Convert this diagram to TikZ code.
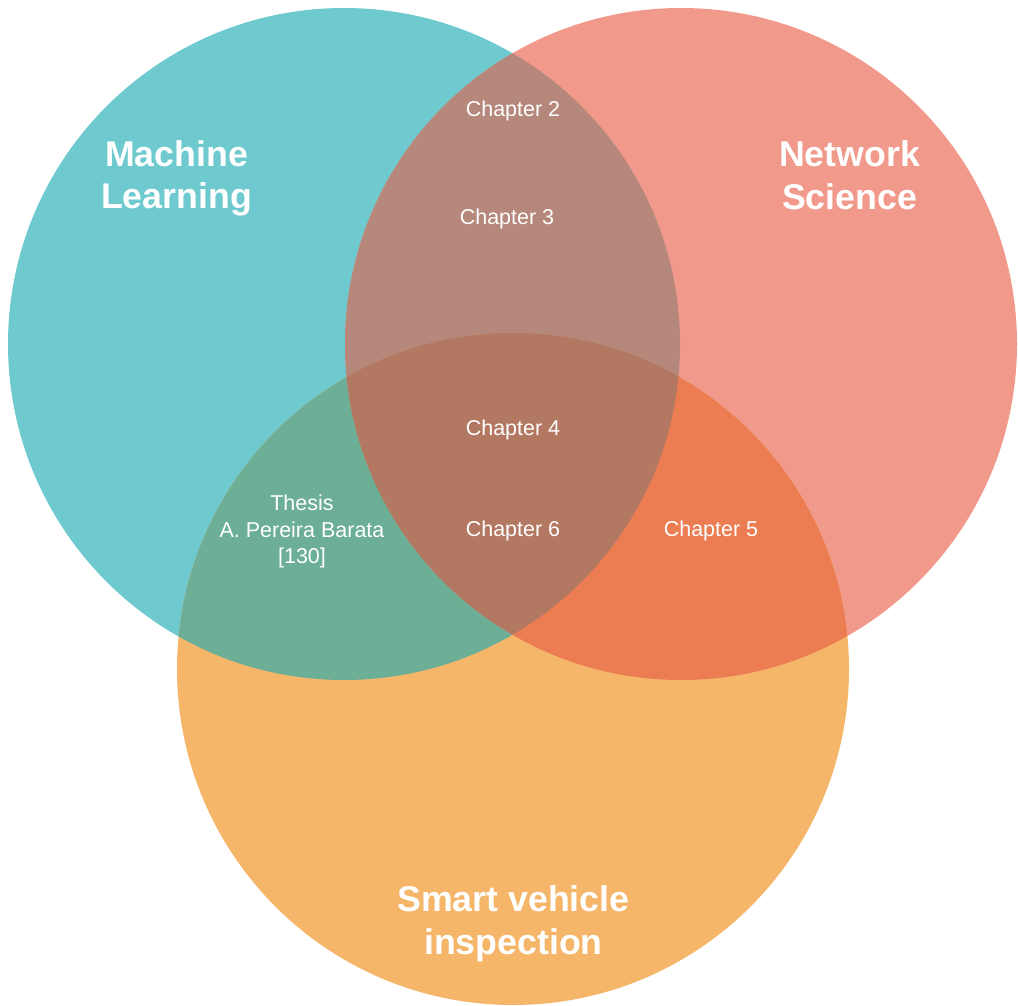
\documentclass[tikz,border=0pt]{standalone}
\usepackage{fontspec}
\setmainfont{Liberation Sans}
\definecolor{mlcol}{HTML}{6FCAD0}
\definecolor{nscol}{HTML}{F1998B}
\definecolor{svcol}{HTML}{F5B66A}
\definecolor{mlnscol}{HTML}{B6877B}
\definecolor{mlsvcol}{HTML}{6CAE96}
\definecolor{nssvcol}{HTML}{EC7D52}
\definecolor{allcol}{HTML}{B37862}
\begin{document}
\begin{tikzpicture}[x=1pt,y=-1pt,
  chap/.style={text=white,anchor=base,inner sep=0pt,font=\fontsize{21.5}{25}\selectfont},
  big/.style={text=white,anchor=base,inner sep=0pt,font=\fontsize{35.7}{41}\selectfont\bfseries}]
\useasboundingbox (0,0) rectangle (1018,1006);
\def\mlc{(344,344) circle[radius=336pt]}
\def\nsc{(681,344) circle[radius=336pt]}
\def\svc{(513,669) circle[radius=336pt]}
% single circles
\fill[mlcol] \mlc;
\fill[nscol] \nsc;
\fill[svcol] \svc;
% pairwise
\begin{scope}\clip \mlc; \fill[mlnscol] \nsc; \end{scope}
\begin{scope}\clip \mlc; \fill[mlsvcol] \svc; \end{scope}
\begin{scope}\clip \nsc; \fill[nssvcol] \svc; \end{scope}
% triple
\begin{scope}\clip \mlc; \clip \nsc; \fill[allcol] \svc; \end{scope}
% big labels
\node[big] (ml1) at (176.5,167) {Machine};
\node[big] (ml2) at (176.5,208) {Learning};
\node[big] (ns1) at (849.5,167) {Network};
\node[big] (ns2) at (849.5,209) {Science};
\node[big] (sv1) at (513.5,911) {Smart vehicle};
\node[big] (sv2) at (513.5,954.5) {inspection};
% chapters
\node[chap] (c2) at (513,117) {Chapter 2};
\node[chap] (c3) at (507,224) {Chapter 3};
\node[chap] (c4) at (513,435) {Chapter 4};
\node[chap] (c6) at (513,536.5) {Chapter 6};
\node[chap] (c5) at (711,536.5) {Chapter 5};
\node[chap] (t1) at (302,510.5) {Thesis};
\node[chap] (t2) at (302,537) {A. Pereira Barata};
\node[chap] (t3) at (302,563.5) {[130]};
\end{tikzpicture}
\end{document}
